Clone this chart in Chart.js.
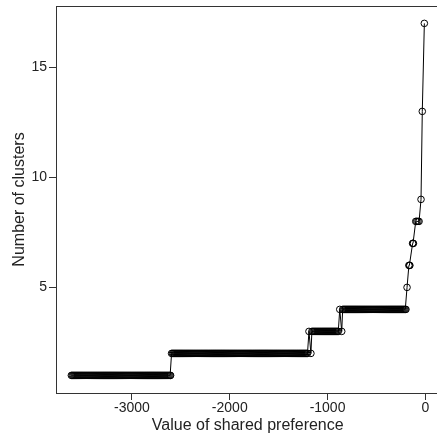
<!DOCTYPE html>
<html>
<head>
<meta charset="utf-8">
<script src="https://cdn.jsdelivr.net/npm/chart.js@4/dist/chart.umd.min.js"></script>
<style>
html,body{margin:0;padding:0;background:#fff;overflow:hidden;}
canvas{display:block;}
</style>
</head>
<body>
<canvas id="c" width="440" height="440" style="width:440px;height:440px"></canvas>
<script>
// Preference values (x) at which each number of clusters (y) was obtained
const clusters1X = [
-3620,-3610,-3600,-3590,-3580,-3570,-3560,-3550,-3540,-3530,
-3520,-3510,-3500,-3490,-3480,-3470,-3460,-3450,-3440,-3430,
-3420,-3410,-3400,-3390,-3380,-3370,-3360,-3350,-3340,-3330,
-3320,-3310,-3300,-3290,-3280,-3270,-3260,-3250,-3240,-3230,
-3220,-3210,-3200,-3190,-3180,-3170,-3160,-3150,-3140,-3130,
-3120,-3110,-3100,-3090,-3080,-3070,-3060,-3050,-3040,-3030,
-3020,-3010,-3000,-2990,-2980,-2970,-2960,-2950,-2940,-2930,
-2920,-2910,-2900,-2890,-2880,-2870,-2860,-2850,-2840,-2830,
-2820,-2810,-2800,-2790,-2780,-2770,-2760,-2750,-2740,-2730,
-2720,-2710,-2700,-2690,-2680,-2670,-2660,-2650,-2640,-2630,
-2620,-2610,-2605];
const clusters2X = [
-2595,-2585,-2575,-2565,-2555,-2545,-2535,-2525,-2515,-2505,
-2495,-2485,-2475,-2465,-2455,-2445,-2435,-2425,-2415,-2405,
-2395,-2385,-2375,-2365,-2355,-2345,-2335,-2325,-2315,-2305,
-2295,-2285,-2275,-2265,-2255,-2245,-2235,-2225,-2215,-2205,
-2195,-2185,-2175,-2165,-2155,-2145,-2135,-2125,-2115,-2105,
-2095,-2085,-2075,-2065,-2055,-2045,-2035,-2025,-2015,-2005,
-1995,-1985,-1975,-1965,-1955,-1945,-1935,-1925,-1915,-1905,
-1895,-1885,-1875,-1865,-1855,-1845,-1835,-1825,-1815,-1805,
-1795,-1785,-1775,-1765,-1755,-1745,-1735,-1725,-1715,-1705,
-1695,-1685,-1675,-1665,-1655,-1645,-1635,-1625,-1615,-1605,
-1595,-1585,-1575,-1565,-1555,-1545,-1535,-1525,-1515,-1505,
-1495,-1485,-1475,-1465,-1455,-1445,-1435,-1425,-1415,-1405,
-1395,-1385,-1375,-1365,-1355,-1345,-1335,-1325,-1315,-1305,
-1295,-1285,-1275,-1265,-1255,-1245,-1235,-1225,-1215,-1205,
-1170];
const clusters3X = [
-1190,-1160,-1150,-1140,-1130,-1120,-1110,-1100,-1090,-1080,
-1070,-1060,-1050,-1040,-1030,-1020,-1010,-1000,-990,-980,
-970,-960,-950,-940,-930,-920,-910,-900,-890,-855];
const clusters4X = [
-875,
-845,-835,-825,-815,-805,-795,-785,-775,-765,-755,
-745,-735,-725,-715,-705,-695,-685,-675,-665,-655,
-645,-635,-625,-615,-605,-595,-585,-575,-565,-555,
-545,-535,-525,-515,-505,-495,-485,-475,-465,-455,
-445,-435,-425,-415,-405,-395,-385,-375,-365,-355,
-345,-335,-325,-315,-305,-295,-285,-275,-265,-255,
-245,-235,-225,-215,-205,-198];
const clusters5X = [-187];
const clusters6X = [-168,-163,-158];
const clusters7X = [-130,-126,-122];
const clusters8X = [-98,-88,-75,-64];
const clusters9X = [-44];
const clusters13X = [-31];
const clusters17X = [-10];

const xTickValues = [-3000,-2000,-1000,0];
const yTickValues = [5,10,15];
const xTitle = "Value of shared preference";
const yTitle = "Number of clusters";

const groups = [
  [1, clusters1X],[2, clusters2X],[3, clusters3X],[4, clusters4X],[5, clusters5X],
  [6, clusters6X],[7, clusters7X],[8, clusters8X],[9, clusters9X],[13, clusters13X],[17, clusters17X]
];
const points = [];
groups.forEach(([n, xs]) => xs.forEach(x => points.push({x: x, y: n})));
points.sort((a, b) => a.x - b.x);

const FONT = "'Liberation Sans', Arial, sans-serif";
const AXIS = '#333';
const TXT = '#222';

const framePlugin = {
  id: 'frame',
  beforeDatasetsDraw(chart) {
    const a = chart.chartArea, ctx = chart.ctx;
    ctx.save();
    ctx.strokeStyle = AXIS;
    ctx.lineWidth = 1;
    ctx.strokeRect(Math.round(a.left) + 0.5, Math.round(a.top) + 0.5,
                   Math.round(a.right - a.left), Math.round(a.bottom - a.top));
    ctx.restore();
  }
};

new Chart(document.getElementById('c'), {
  type: 'scatter',
  data: {
    datasets: [{
      data: points,
      showLine: true,
      borderColor: '#000',
      borderWidth: 1,
      tension: 0,
      pointRadius: 3.3,
      pointBorderWidth: 1,
      pointBorderColor: '#000',
      pointBackgroundColor: 'rgba(0,0,0,0)',
      pointHoverRadius: 3.3
    }]
  },
  options: {
    responsive: false,
    animation: false,
    events: [],
    layout: { autoPadding: false, padding: { top: 6, right: 0.5, left: 0, bottom: 0 } },
    plugins: { legend: { display: false }, tooltip: { enabled: false } },
    scales: {
      x: {
        type: 'linear',
        min: -3777, max: 145,
        afterFit(s) { s.height = 47; s.paddingLeft = 0; s.paddingRight = 0; s.paddingTop = 0; s.paddingBottom = 0; },
        afterBuildTicks(s) { s.ticks = xTickValues.map(v => ({ value: v })); },
        border: { display: false },
        grid: { display: true, drawOnChartArea: false, drawTicks: true, tickLength: 7, color: AXIS, lineWidth: 1 },
        ticks: { color: TXT, font: { family: FONT, size: 14 }, padding: 0, maxRotation: 0, autoSkip: false,
                 callback: v => String(v) },
        title: { display: true, text: xTitle, color: TXT, font: { family: FONT, size: 16 }, padding: { top: 0, bottom: 5 } }
      },
      y: {
        type: 'linear',
        min: 0.2, max: 17.79,
        afterFit(s) { s.width = 56; s.paddingLeft = 0; s.paddingRight = 0; s.paddingTop = 0; s.paddingBottom = 0; },
        afterBuildTicks(s) { s.ticks = yTickValues.map(v => ({ value: v })); },
        border: { display: false },
        grid: { display: true, drawOnChartArea: false, drawTicks: true, tickLength: 7, color: AXIS, lineWidth: 1 },
        ticks: { color: TXT, font: { family: FONT, size: 14 }, padding: 2, autoSkip: false,
                 callback: v => String(v) },
        title: { display: true, text: yTitle, color: TXT, font: { family: FONT, size: 16 }, padding: { top: 10, bottom: 0 } }
      }
    }
  },
  plugins: [framePlugin]
});
</script>
</body>
</html>
